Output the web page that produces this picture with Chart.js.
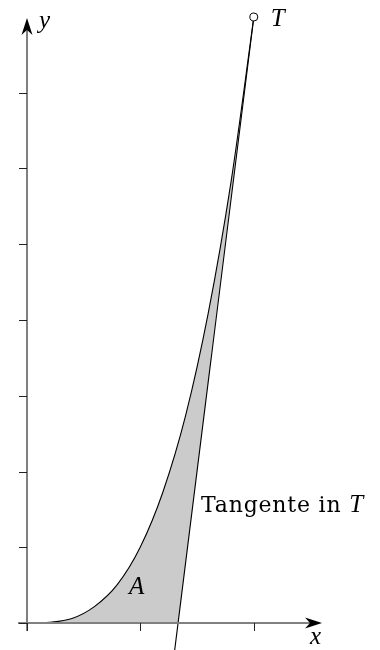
<!DOCTYPE html>
<html>
<head>
<meta charset="utf-8">
<script src="https://cdn.jsdelivr.net/npm/chart.js@4/dist/chart.umd.min.js"></script>
<style>
html,body{margin:0;padding:0;background:#fff;}
#wrap{width:380px;height:650px;}
</style>
</head>
<body>
<div id="wrap"><canvas id="c" width="380" height="650"></canvas></div>
<script>
// Curve y = f(x), from origin to T
const curveX = [0, 0.2, 0.4, 0.6, 0.8, 1.0, 1.2, 1.4, 1.6, 1.8, 2.0];
const curveY = [0, 0.01, 0.06, 0.22, 0.51, 1.0, 1.73, 2.74, 4.1, 5.83, 8.0];
// Tangent in T: from below the x-axis up to T
const tangentX = [1.30, 2.0];
const tangentY = [-0.40, 8.0];
// Lower boundary of region A: x-axis to tangent foot, then tangent to T
const boundX = [0, 1.333, 2.0];
const boundY = [0, 0, 8.0];
// Point T
const pointT = [2.0, 8.0];
// Axis ticks
const xTicks = [0, 1, 2];
const yTicks = [0, 1, 2, 3, 4, 5, 6, 7];
// Labels
const labelA = 'A';
const labelTangent = 'Tangente in ';
const labelT = 'T';
const labelX = 'x';
const labelY = 'y';

const toPts = (xs, ys) => xs.map((x, i) => ({x: x, y: ys[i]}));

const axisPlugin = {
  id: 'axes',
  afterDatasetsDraw(chart) {
    const ctx = chart.ctx;
    const xs = chart.scales.x, ys = chart.scales.y;
    const X = v => xs.getPixelForValue(v), Y = v => ys.getPixelForValue(v);
    const ox = Math.round(X(0)), oy = Math.round(Y(0));
    ctx.save();
    // axis lines
    ctx.strokeStyle = '#808080';
    ctx.lineWidth = 2;
    ctx.beginPath();
    ctx.moveTo(ox - 9, oy); ctx.lineTo(312, oy);
    ctx.moveTo(ox, oy + 8); ctx.lineTo(ox, 28);
    ctx.stroke();
    // ticks
    ctx.strokeStyle = '#222';
    ctx.lineWidth = 1;
    ctx.beginPath();
    xTicks.forEach(v => { const p = Math.round(X(v)) + 0.5; ctx.moveTo(p, oy); ctx.lineTo(p, oy + 8); });
    yTicks.forEach(v => { const p = Math.round(Y(v)) + 0.5; ctx.moveTo(ox - 8, p); ctx.lineTo(ox, p); });
    ctx.stroke();
    // arrowheads (stealth)
    ctx.fillStyle = '#000';
    const tipX = 322;
    ctx.beginPath();
    ctx.moveTo(tipX, oy);
    ctx.lineTo(tipX - 17, oy - 5.5);
    ctx.lineTo(tipX - 12, oy);
    ctx.lineTo(tipX - 17, oy + 5.5);
    ctx.closePath(); ctx.fill();
    const tipY = 18;
    ctx.beginPath();
    ctx.moveTo(ox, tipY);
    ctx.lineTo(ox - 5.5, tipY + 17);
    ctx.lineTo(ox, tipY + 12);
    ctx.lineTo(ox + 5.5, tipY + 17);
    ctx.closePath(); ctx.fill();
    // labels
    ctx.fillStyle = '#000';
    ctx.textBaseline = 'alphabetic';
    ctx.textAlign = 'left';
    ctx.font = 'italic 25px "Liberation Serif"';
    ctx.fillText(labelY, 39, 28);
    ctx.fillText(labelX, 310, 644);
    ctx.fillText(labelA, 129, 594);
    ctx.fillText(labelT, X(2.0) + 17, Y(8.0) + 9);
    ctx.font = '22px "DejaVu Serif"';
    if ('letterSpacing' in ctx) ctx.letterSpacing = '0.8px';
    const tx = 201, ty = 512;
    ctx.fillText(labelTangent, tx, ty);
    const w = ctx.measureText(labelTangent).width;
    if ('letterSpacing' in ctx) ctx.letterSpacing = '0px';
    ctx.font = 'italic 25px "Liberation Serif"';
    ctx.fillText(labelT, tx + w, ty);
    ctx.restore();
  }
};

new Chart(document.getElementById('c'), {
  type: 'scatter',
  data: {
    datasets: [
      {
        data: toPts(curveX, curveY),
        showLine: true,
        borderColor: '#000',
        borderWidth: 1.1,
        pointRadius: 0,
        cubicInterpolationMode: 'monotone',
        fill: 1,
        backgroundColor: '#cbcbcb',
        order: 2
      },
      {
        data: toPts(boundX, boundY),
        showLine: true,
        borderColor: 'rgba(0,0,0,0)',
        borderWidth: 0,
        pointRadius: 0,
        fill: false,
        order: 3
      },
      {
        data: toPts(tangentX, tangentY),
        showLine: true,
        borderColor: '#000',
        borderWidth: 1.1,
        pointRadius: 0,
        fill: false,
        order: 1
      },
      {
        data: [{x: pointT[0], y: pointT[1]}],
        showLine: false,
        pointRadius: 4,
        pointBorderWidth: 1,
        pointBorderColor: '#000',
        pointBackgroundColor: '#fff',
        order: 0
      }
    ]
  },
  options: {
    responsive: false,
    animation: false,
    layout: {padding: 0, autoPadding: false},
    plugins: {legend: {display: false}, tooltip: {enabled: false}},
    scales: {
      x: {type: 'linear', min: -0.2335, max: 3.110, display: false},
      y: {type: 'linear', min: -0.3564, max: 8.2244, display: false}
    }
  },
  plugins: [axisPlugin]
});
</script>
</body>
</html>
